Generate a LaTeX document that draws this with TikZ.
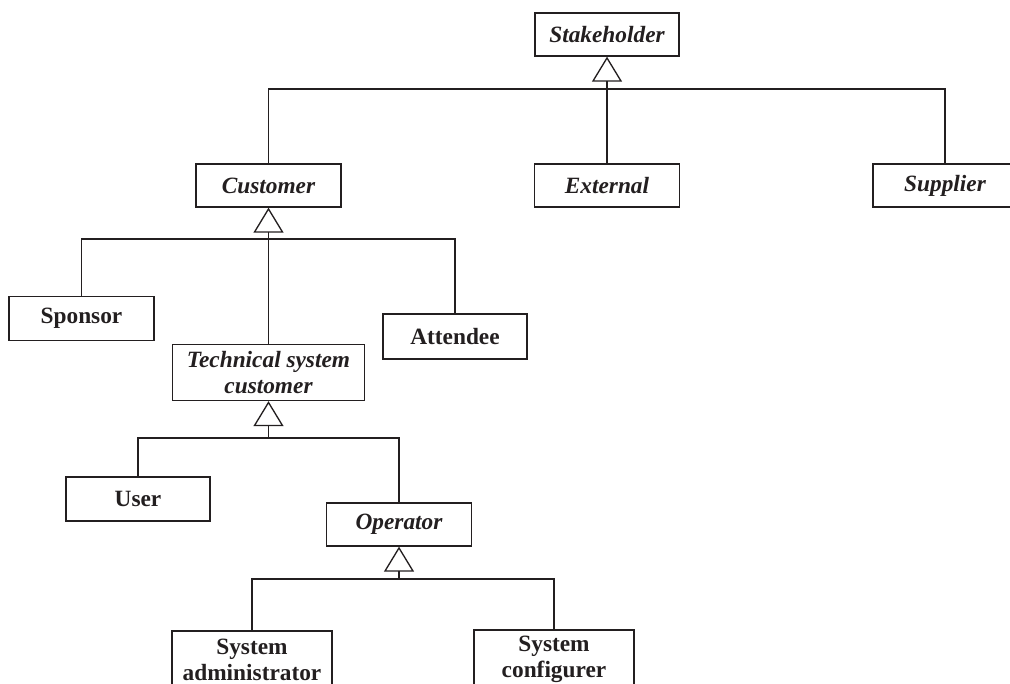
\documentclass[tikz,border=0pt]{standalone}
\usepackage{fontspec}
\setmainfont{Liberation Serif}
\usetikzlibrary{arrows.meta}
\definecolor{ink}{HTML}{231F20}
\begin{document}
\begin{tikzpicture}[x=0.75pt,y=-0.75pt,
  cls/.style={draw=ink, line width=1pt, fill=white, inner sep=2pt,
    minimum width=145*0.75pt, minimum height=43*0.75pt,
    font=\fontsize{17.5}{19.5}\selectfont\bfseries, text=ink, align=center},
  abstract/.style={cls, font=\fontsize{17.5}{19.5}\selectfont\bfseries\itshape},
  twoline/.style={minimum height=56*0.75pt},
  link/.style={draw=ink, line width=1pt},
  gen/.style={link, -{Triangle[open, length=25*0.75pt, width=30*0.75pt, line width=1pt]}}]
\useasboundingbox (0,0) rectangle (1010,684);
\clip (0,0) rectangle (1010,684);

% classes
\node[abstract, minimum width=144*0.75pt] (stake) at (607,34.5) {Stakeholder};
\node[abstract] (cust) at (268.5,185.5) {Customer};
\node[abstract] (ext) at (607,185.5) {External};
\node[abstract, minimum width=144*0.75pt] (supp) at (945,185.5) {Supplier};
\node[cls, minimum height=44*0.75pt] (spons) at (81.5,318.5) {Sponsor};
\node[cls, minimum width=144*0.75pt, minimum height=45*0.75pt] (att) at (455,336.5) {Attendee};
\node[abstract, twoline, minimum width=192*0.75pt] (tech) at (268.5,372.5) {Technical system\\customer};
\node[cls, minimum width=144*0.75pt, minimum height=44*0.75pt] (user) at (138,499) {User};
\node[abstract] (oper) at (399,524.5) {Operator};
\node[cls, twoline, minimum width=160*0.75pt, minimum height=58*0.75pt] (sadm) at (252,660) {System\\administrator};
\node[cls, minimum width=160*0.75pt, minimum height=58*0.75pt] (scfg) at (554,659) {System\\configurer};

% generalisation junctions
\coordinate (j1) at (607,89);
\coordinate (j2) at (268.5,239);
\coordinate (j3) at (268.5,438);
\coordinate (j4) at (399,579);

% Stakeholder
\draw[gen] (j1) -- (stake.south);
\draw[link] (cust.north) |- (j1) -| (supp.north);
\draw[link] (j1) -- (ext.north);

% Customer
\draw[gen] (j2) -- (cust.south);
\draw[link] (spons.north) |- (j2) -| (att.north);
\draw[link] (j2) -- (tech.north);

% Technical system customer
\draw[gen] (j3) -- (tech.south);
\draw[link] (user.north) |- (j3) -| (oper.north);

% Operator
\draw[gen] (j4) -- (oper.south);
\draw[link] (sadm.north) |- (j4) -| (scfg.north);
\end{tikzpicture}
\end{document}
